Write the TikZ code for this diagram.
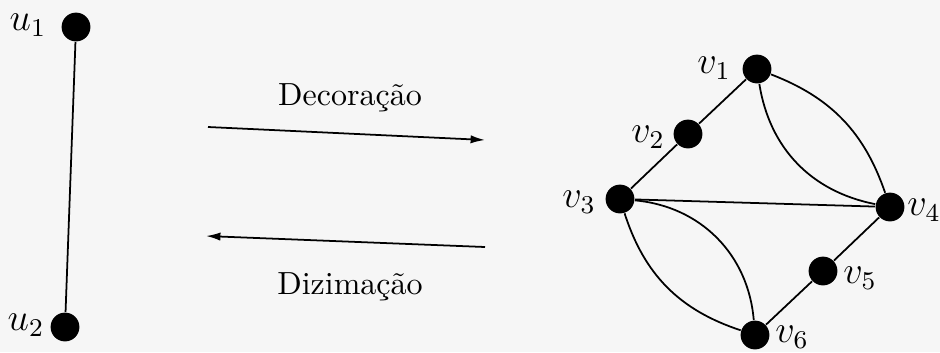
\documentclass[tikz,border=0pt]{standalone}
\usetikzlibrary{arrows.meta}
\begin{document}
\begin{tikzpicture}[x=0.3125pt,y=-0.3125pt,
  vtx/.style={circle,fill=black,inner sep=0pt,minimum size=9pt},
  lbl/.style={inner sep=0pt,font=\large},
  txt/.style={inner sep=0pt},
  edge/.style={line width=0.55pt},
  arr/.style={line width=0.55pt,-{Latex[length=4.5pt,width=2.6pt]}}]
\fill[gray!7] (0,0) rectangle (940,352);
\useasboundingbox (0,0) rectangle (940,352);
% left graph
\node[vtx] (u1) at (76,27) {};
\node[vtx] (u2) at (65,327) {};
\node[lbl] at (28,25) {$u_1$};
\node[lbl] at (26,325) {$u_2$};
\draw[edge] (u1) -- (u2);
% arrows
\coordinate (a1) at (208,127);
\coordinate (a2) at (485,140);
\coordinate (b1) at (485,247);
\coordinate (b2) at (206,236);
\draw[arr] (a1) -- (a2);
\draw[arr] (b1) -- (b2);
\node[txt] (dec) at (350,98) {Decoração};
\node[txt] (diz) at (350,287) {Dizimação};
% right graph
\node[vtx] (v1) at (757,69) {};
\node[vtx] (v2) at (688,134) {};
\node[vtx] (v3) at (620,199) {};
\node[vtx] (v4) at (890,207) {};
\node[vtx] (v5) at (823,271) {};
\node[vtx] (v6) at (755,335) {};
\node[lbl] at (714,68) {$v_1$};
\node[lbl] at (648,137) {$v_2$};
\node[lbl] at (579,202) {$v_3$};
\node[lbl] at (924,210) {$v_4$};
\node[lbl] at (860,278) {$v_5$};
\node[lbl] at (792,337) {$v_6$};
\draw[edge] (v1) -- (v2) -- (v3);
\draw[edge] (v3) -- (v4);
\draw[edge] (v4) -- (v5) -- (v6);
\draw[edge] (v1) to[bend right=35] (v4);
\draw[edge] (v1) to[bend left=25] (v4);
\draw[edge] (v3) to[bend left=40] (v6);
\draw[edge] (v3) to[bend right=27] (v6);
\end{tikzpicture}
\end{document}
